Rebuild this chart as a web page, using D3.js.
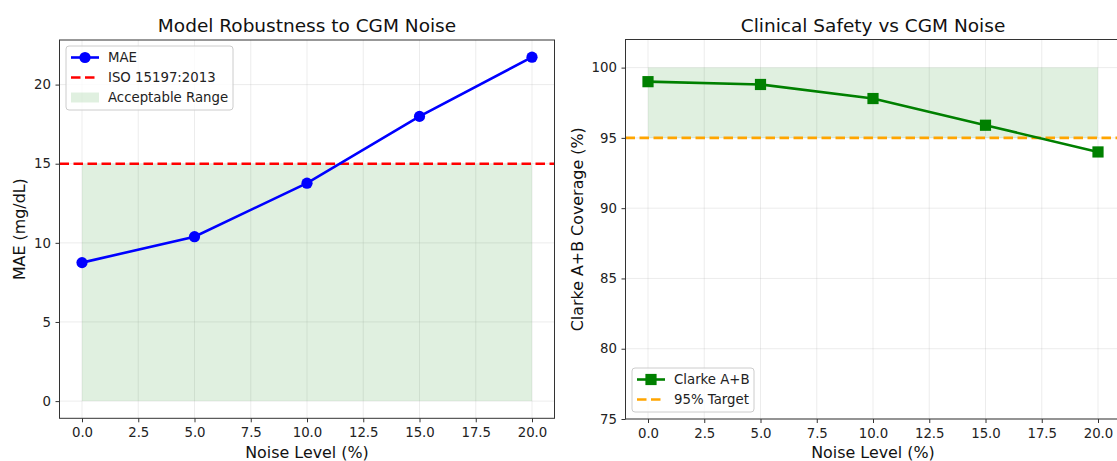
<!DOCTYPE html>
<html>
<head>
<meta charset="utf-8">
<script src="https://cdn.jsdelivr.net/npm/d3@7"></script>
<style>
  html, body { margin: 0; padding: 0; background: #fff; }
  svg { display: block; font-family: "DejaVu Sans", sans-serif; }
</style>
</head>
<body>
<svg id="chart" width="1117" height="461"></svg>
<script>
// Noise levels tested (% of CGM signal)
const noiseLevels = [0, 5, 10, 15, 20];
// Mean absolute error at each noise level (mg/dL)
const maeValues = [8.75, 10.39, 13.77, 17.99, 21.73];
// Clarke error grid A+B zone coverage (%)
const clarkeValues = [99.0, 98.8, 97.8, 95.9, 94.0];
// Reference thresholds
const isoThreshold = 15;
const clarkeTarget = 95;
const clarkeUpper = 100;
// Tick labels
const xTicks = [0, 2.5, 5, 7.5, 10, 12.5, 15, 17.5, 20];
const maeTicks = [0, 5, 10, 15, 20];
const clarkeTicks = [75, 80, 85, 90, 95, 100];

const svg = d3.select("#chart");
const fmt1 = d3.format(".1f");

function panel(opts) {
  const g = svg.append("g");
  const x = d3.scaleLinear().domain(opts.xDomain).range([opts.left, opts.right]);
  const y = d3.scaleLinear().domain(opts.yDomain).range([opts.bottom, opts.top]);

  // clip for plotted content
  const clipId = "clip-" + opts.id;
  svg.append("clipPath").attr("id", clipId).append("rect")
    .attr("x", opts.left).attr("y", opts.top)
    .attr("width", opts.right - opts.left).attr("height", opts.bottom - opts.top);

  // grid
  const grid = g.append("g").attr("stroke", "#b0b0b0").attr("stroke-opacity", 0.3).attr("stroke-width", 0.8);
  grid.selectAll(".gx").data(opts.xTicks).join("line")
    .attr("x1", d => x(d)).attr("x2", d => x(d)).attr("y1", opts.top).attr("y2", opts.bottom);
  grid.selectAll(".gy").data(opts.yTicks).join("line")
    .attr("y1", d => y(d)).attr("y2", d => y(d)).attr("x1", opts.left).attr("x2", opts.right);

  const content = g.append("g").attr("clip-path", `url(#${clipId})`);
  opts.draw(content, x, y);

  // spines
  g.append("rect").attr("x", opts.left).attr("y", opts.top)
    .attr("width", opts.right - opts.left).attr("height", opts.bottom - opts.top)
    .attr("fill", "none").attr("stroke", "#333").attr("stroke-width", 1);

  // axes
  const xAxis = d3.axisBottom(x).tickValues(opts.xTicks).tickFormat(fmt1).tickSizeOuter(0).tickSize(4).tickPadding(5.5);
  const gx = g.append("g").attr("transform", `translate(0,${opts.bottom})`).call(xAxis);
  const yAxis = d3.axisLeft(y).tickValues(opts.yTicks).tickFormat(d3.format("d")).tickSizeOuter(0).tickSize(4).tickPadding(4.5);
  const gy = g.append("g").attr("transform", `translate(${opts.left},0)`).call(yAxis);
  [gx, gy].forEach(a => {
    a.select(".domain").remove();
    a.selectAll("text").attr("font-size", 13.3).attr("fill", "#222").attr("font-family", "DejaVu Sans, sans-serif");
    a.selectAll("line").attr("stroke", "#333");
  });

  // titles and labels
  g.append("text").attr("x", (opts.left + opts.right) / 2).attr("y", 31.7)
    .attr("text-anchor", "middle").attr("font-size", 18.5).attr("fill", "#111").text(opts.title);
  g.append("text").attr("x", (opts.left + opts.right) / 2).attr("y", 457.5)
    .attr("text-anchor", "middle").attr("font-size", 15.9).attr("fill", "#111").text(opts.xLabel);
  const ym = (opts.top + opts.bottom) / 2;
  g.append("text").attr("transform", `translate(${opts.yLabelX},${ym}) rotate(-90)`)
    .attr("text-anchor", "middle").attr("font-size", 15.9).attr("fill", "#111").text(opts.yLabel);

  opts.legend(g);
  return { x, y };
}

// Left: MAE vs noise
panel({
  id: "mae",
  left: 59.5, right: 554.5, top: 40, bottom: 418.3,
  xDomain: [-1, 21], yDomain: [-1.087, 22.817],
  xTicks, yTicks: maeTicks,
  title: "Model Robustness to CGM Noise",
  xLabel: "Noise Level (%)",
  yLabel: "MAE (mg/dL)",
  yLabelX: 25,
  draw(c, x, y) {
    const area = d3.area().x(d => x(d)).y0(y(0)).y1(y(isoThreshold));
    c.append("path").datum([noiseLevels[0], noiseLevels[noiseLevels.length - 1]])
      .attr("d", area).attr("fill", "green").attr("fill-opacity", 0.12);
    c.append("line").attr("x1", x.range()[0]).attr("x2", x.range()[1])
      .attr("y1", y(isoThreshold)).attr("y2", y(isoThreshold))
      .attr("stroke", "#ff0000").attr("stroke-width", 2.6).attr("stroke-dasharray", "9.5,4.5");
    const line = d3.line().x((d, i) => x(noiseLevels[i])).y(d => y(d));
    c.append("path").datum(maeValues).attr("d", line)
      .attr("fill", "none").attr("stroke", "#0000ff").attr("stroke-width", 2.6);
    c.selectAll("circle").data(maeValues).join("circle")
      .attr("cx", (d, i) => x(noiseLevels[i])).attr("cy", d => y(d)).attr("r", 5.6)
      .attr("fill", "#0000ff");
  },
  legend(g) {
    const lx = 66, ly = 46;
    const lg = g.append("g");
    lg.append("rect").attr("x", lx).attr("y", ly).attr("width", 167).attr("height", 64).attr("rx", 3)
      .attr("fill", "#fff").attr("fill-opacity", 0.8).attr("stroke", "#ccc").attr("stroke-width", 1);
    const rows = [ly + 11.5, ly + 31.5, ly + 51.5];
    lg.append("line").attr("x1", lx + 5).attr("x2", lx + 33).attr("y1", rows[0]).attr("y2", rows[0])
      .attr("stroke", "#0000ff").attr("stroke-width", 2.6);
    lg.append("circle").attr("cx", lx + 19).attr("cy", rows[0]).attr("r", 5.6).attr("fill", "#0000ff");
    lg.append("line").attr("x1", lx + 5).attr("x2", lx + 33).attr("y1", rows[1]).attr("y2", rows[1])
      .attr("stroke", "#ff0000").attr("stroke-width", 2.6).attr("stroke-dasharray", "9.5,4.5");
    lg.append("rect").attr("x", lx + 5).attr("y", rows[2] - 5).attr("width", 28).attr("height", 10)
      .attr("fill", "green").attr("fill-opacity", 0.12);
    ["MAE", "ISO 15197:2013", "Acceptable Range"].forEach((t, i) => {
      lg.append("text").attr("x", lx + 42).attr("y", rows[i] + 4.8).attr("font-size", 13.3)
        .attr("fill", "#222").text(t);
    });
  }
});

// Right: Clarke A+B coverage vs noise
panel({
  id: "clarke",
  left: 625.5, right: 1120.5, top: 39.5, bottom: 419,
  xDomain: [-1, 21], yDomain: [75, 102],
  xTicks, yTicks: clarkeTicks,
  title: "Clinical Safety vs CGM Noise",
  xLabel: "Noise Level (%)",
  yLabel: "Clarke A+B Coverage (%)",
  yLabelX: 583,
  draw(c, x, y) {
    const area = d3.area().x(d => x(d)).y0(y(clarkeTarget)).y1(y(clarkeUpper));
    c.append("path").datum([noiseLevels[0], noiseLevels[noiseLevels.length - 1]])
      .attr("d", area).attr("fill", "green").attr("fill-opacity", 0.12);
    c.append("line").attr("x1", x.range()[0]).attr("x2", x.range()[1])
      .attr("y1", y(clarkeTarget)).attr("y2", y(clarkeTarget))
      .attr("stroke", "#ffa500").attr("stroke-width", 2.6).attr("stroke-dasharray", "9.5,4.5");
    const line = d3.line().x((d, i) => x(noiseLevels[i])).y(d => y(d));
    c.append("path").datum(clarkeValues).attr("d", line)
      .attr("fill", "none").attr("stroke", "#008000").attr("stroke-width", 2.6);
    c.selectAll("rect.m").data(clarkeValues).join("rect").attr("class", "m")
      .attr("x", (d, i) => x(noiseLevels[i]) - 5.6).attr("y", d => y(d) - 5.6)
      .attr("width", 11.2).attr("height", 11.2).attr("fill", "#008000");
  },
  legend(g) {
    const lx = 632, ly = 368;
    const lg = g.append("g");
    lg.append("rect").attr("x", lx).attr("y", ly).attr("width", 122).attr("height", 44).attr("rx", 3)
      .attr("fill", "#fff").attr("fill-opacity", 0.8).attr("stroke", "#ccc").attr("stroke-width", 1);
    const rows = [ly + 11.5, ly + 31.5];
    lg.append("line").attr("x1", lx + 5).attr("x2", lx + 33).attr("y1", rows[0]).attr("y2", rows[0])
      .attr("stroke", "#008000").attr("stroke-width", 2.6);
    lg.append("rect").attr("x", lx + 19 - 5.6).attr("y", rows[0] - 5.6).attr("width", 11.2).attr("height", 11.2)
      .attr("fill", "#008000");
    lg.append("line").attr("x1", lx + 5).attr("x2", lx + 33).attr("y1", rows[1]).attr("y2", rows[1])
      .attr("stroke", "#ffa500").attr("stroke-width", 2.6).attr("stroke-dasharray", "9.5,4.5");
    ["Clarke A+B", "95% Target"].forEach((t, i) => {
      lg.append("text").attr("x", lx + 42).attr("y", rows[i] + 4.8).attr("font-size", 13.3)
        .attr("fill", "#222").text(t);
    });
  }
});
</script>
</body>
</html>
